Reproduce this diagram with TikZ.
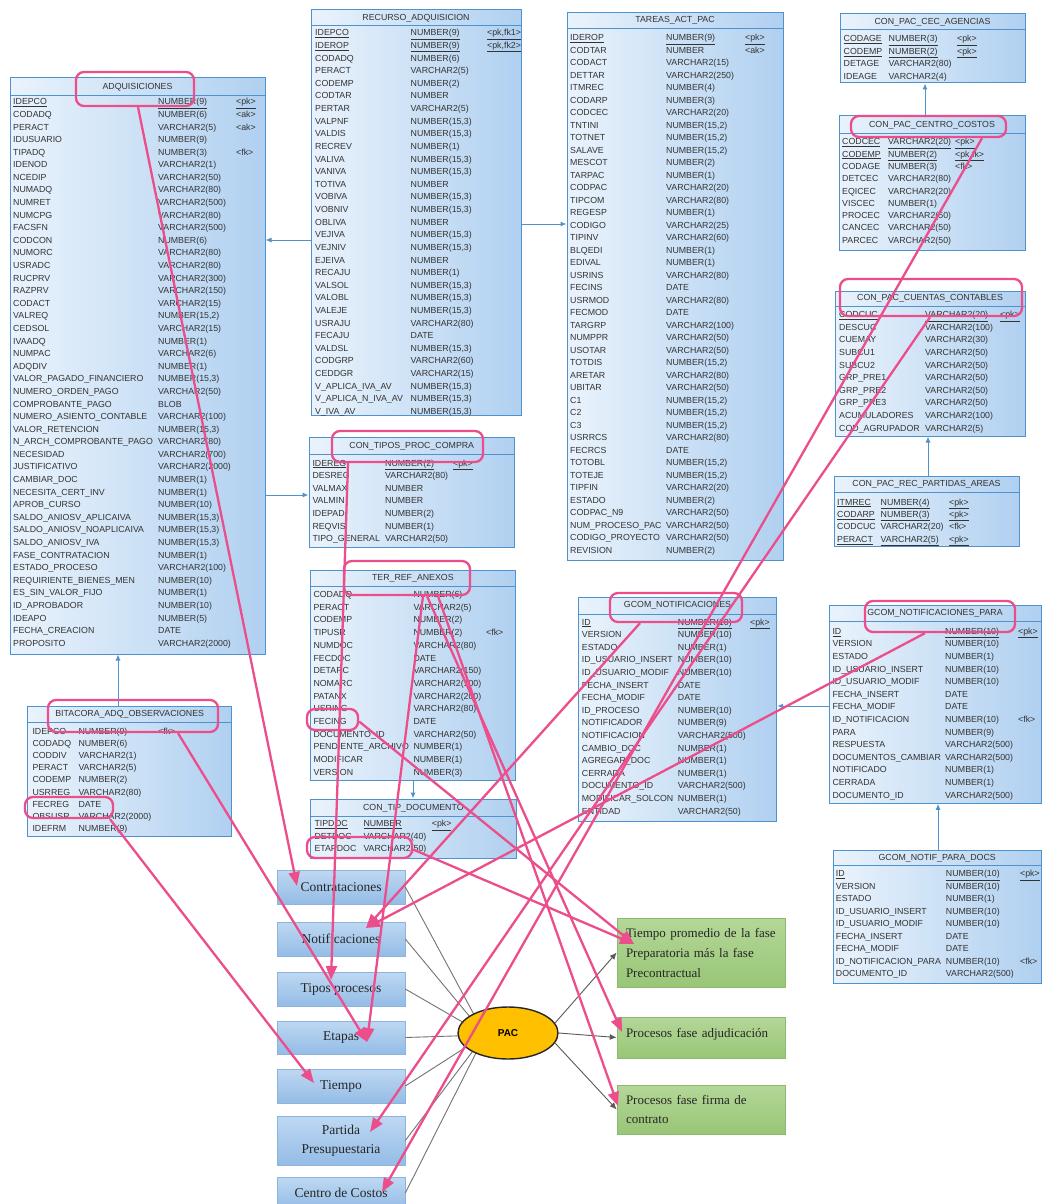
\documentclass[tikz,border=0pt]{standalone}
\usepackage{fontspec}
\setmainfont{Liberation Sans}
\newfontfamily\tnr{Liberation Serif}
\usetikzlibrary{arrows.meta,shapes.geometric}

\definecolor{tblue}{RGB}{78,146,206}
\definecolor{tL}{RGB}{234,243,252}
\definecolor{tR}{RGB}{176,208,240}
\definecolor{hot}{RGB}{236,78,140}
\definecolor{bTop}{RGB}{190,216,242}
\definecolor{bBot}{RGB}{148,188,230}
\definecolor{bEdge}{RGB}{140,180,220}
\definecolor{gTop}{RGB}{180,215,152}
\definecolor{gBot}{RGB}{152,198,118}
\definecolor{gEdge}{RGB}{140,186,110}
\definecolor{pacY}{RGB}{255,192,0}

\newcommand{\pk}[1]{\underline{#1}}
\newcommand{\tabfont}[1]{\fontsize{8.8}{#1}\selectfont}

% table frame: name, x1, y1, x2, y2, title, title y, separator y
\newcommand{\dbtable}[8]{%
  \node[tbl, minimum width={(#4)-(#2)}, minimum height={(#5)-(#3)}] (#1) at ({((#2)+(#4))/2},{((#3)+(#5))/2}) {};
  \node[ttl] (#1-title) at ({((#2)+(#4))/2},#7) {#6};
  \draw[tblue, line width=0.8pt] (#2,#8) -- (#4,#8);}

% table columns: name, x names, x types, x keys, first row y, row pitch, names, types, keys
\newcommand{\cols}[9]{%
  \node[col, font={\tabfont{#6}}] (#1-n) at (#2,{(#5)-3.85}) {\rule{0pt}{7pt}#7};
  \node[col, font={\tabfont{#6}}] (#1-t) at (#3,{(#5)-3.85}) {\rule{0pt}{7pt}#8};
  \node[col, font={\tabfont{#6}}] (#1-k) at (#4,{(#5)-3.85}) {\rule{0pt}{7pt}#9};}

\tikzset{
  tbl/.style={rectangle, draw=tblue, line width=1pt, left color=tL, right color=tR, inner sep=0},
  ttl/.style={font=\tabfont{10}, text=black!80, inner sep=0},
  col/.style={anchor=north west, inner sep=0, align=left, text=black!80},
  fk/.style={draw=tblue, line width=1pt, -{Latex[length=6pt,width=5pt]}},
  lbox/.style={rectangle, draw=bEdge, line width=0.6pt, top color=bTop, bottom color=bBot,
    minimum width=128, inner sep=0, align=center, text=black!85,
    font=\tnr\fontsize{13.5}{18.5}\selectfont},
  gbox/.style={rectangle, draw=gEdge, line width=0.6pt, top color=gTop, bottom color=gBot,
    minimum width=168, inner xsep=9, inner ysep=0, text width=150, align=left, text=black!85,
    font=\tnr\fontsize{13}{20}\selectfont},
  gline/.style={draw=black!55, line width=0.9pt},
  parr/.style={draw=black!65, line width=0.9pt, -{Latex[length=7pt,width=6pt]}},
  hl/.style={rectangle, draw=hot, line width=2.3pt, rounded corners=8pt, inner sep=0},
  harr/.style={draw=hot, line width=2.3pt, -{Triangle[length=14pt,width=11pt]}}
}

\begin{document}
\begin{tikzpicture}[x=1pt,y=-1pt]
\useasboundingbox (0,0) rectangle (1042,1204);
\clip (0,0) rectangle (1042,1204);
\fill[white] (0,0) rectangle (1042,1204);

% ---------------- ADQUISICIONES ----------------
\dbtable{adq}{10}{78}{265}{654}{ADQUISICIONES}{87}{95}
\cols{adq}{13}{158}{236}{101.5}{12.59}
{\pk{IDEPCO}\\CODADQ\\PERACT\\IDUSUARIO\\TIPADQ\\IDENOD\\NCEDIP\\NUMADQ\\NUMRET\\NUMCPG\\FACSFN\\CODCON\\NUMORC\\USRADC\\RUCPRV\\RAZPRV\\CODACT\\VALREQ\\CEDSOL\\IVAADQ\\NUMPAC\\ADQDIV\\VALOR\_PAGADO\_FINANCIERO\\NUMERO\_ORDEN\_PAGO\\COMPROBANTE\_PAGO\\NUMERO\_ASIENTO\_CONTABLE\\VALOR\_RETENCION\\N\_ARCH\_COMPROBANTE\_PAGO\\NECESIDAD\\JUSTIFICATIVO\\CAMBIAR\_DOC\\NECESITA\_CERT\_INV\\APROB\_CURSO\\SALDO\_ANIOSV\_APLICAIVA\\SALDO\_ANIOSV\_NOAPLICAIVA\\SALDO\_ANIOSV\_IVA\\FASE\_CONTRATACION\\ESTADO\_PROCESO\\REQUIRIENTE\_BIENES\_MEN\\ES\_SIN\_VALOR\_FIJO\\ID\_APROBADOR\\IDEAPO\\FECHA\_CREACION\\PROPOSITO}
{\pk{NUMBER(9)}\\NUMBER(6)\\VARCHAR2(5)\\NUMBER(9)\\NUMBER(3)\\VARCHAR2(1)\\VARCHAR2(50)\\VARCHAR2(80)\\VARCHAR2(500)\\VARCHAR2(80)\\VARCHAR2(500)\\NUMBER(6)\\VARCHAR2(80)\\VARCHAR2(80)\\VARCHAR2(300)\\VARCHAR2(150)\\VARCHAR2(15)\\NUMBER(15,2)\\VARCHAR2(15)\\NUMBER(1)\\VARCHAR2(6)\\NUMBER(1)\\NUMBER(15,3)\\VARCHAR2(50)\\BLOB\\VARCHAR2(100)\\NUMBER(15,3)\\VARCHAR2(80)\\VARCHAR2(700)\\VARCHAR2(2000)\\NUMBER(1)\\NUMBER(1)\\NUMBER(10)\\NUMBER(15,3)\\NUMBER(15,3)\\NUMBER(15,3)\\NUMBER(1)\\VARCHAR2(100)\\NUMBER(10)\\NUMBER(1)\\NUMBER(10)\\NUMBER(5)\\DATE\\VARCHAR2(2000)}
{\pk{<pk>}\\<ak>\\<ak>\\~\\<fk>}

% ---------------- RECURSO_ADQUISICION ----------------
\dbtable{rec}{311}{10}{521}{415}{RECURSO\_ADQUISICION}{18.5}{25.5}
\cols{rec}{315}{410.5}{487}{32.5}{12.62}
{\pk{IDEPCO}\\\pk{IDEROP}\\CODADQ\\PERACT\\CODEMP\\CODTAR\\PERTAR\\VALPNF\\VALDIS\\RECREV\\VALIVA\\VANIVA\\TOTIVA\\VOBIVA\\VOBNIV\\OBLIVA\\VEJIVA\\VEJNIV\\EJEIVA\\RECAJU\\VALSOL\\VALOBL\\VALEJE\\USRAJU\\FECAJU\\VALDSL\\CODGRP\\CEDDGR\\V\_APLICA\_IVA\_AV\\V\_APLICA\_N\_IVA\_AV\\V\_IVA\_AV}
{\pk{NUMBER(9)}\\\pk{NUMBER(9)}\\NUMBER(6)\\VARCHAR2(5)\\NUMBER(2)\\NUMBER\\VARCHAR2(5)\\NUMBER(15,3)\\NUMBER(15,3)\\NUMBER(1)\\NUMBER(15,3)\\NUMBER(15,3)\\NUMBER\\NUMBER(15,3)\\NUMBER(15,3)\\NUMBER\\NUMBER(15,3)\\NUMBER(15,3)\\NUMBER\\NUMBER(1)\\NUMBER(15,3)\\NUMBER(15,3)\\NUMBER(15,3)\\VARCHAR2(80)\\DATE\\NUMBER(15,3)\\VARCHAR2(60)\\VARCHAR2(15)\\NUMBER(15,3)\\NUMBER(15,3)\\NUMBER(15,3)}
{\pk{<pk,fk1>}\\\pk{<pk,fk2>}}

% ---------------- TAREAS_ACT_PAC ----------------
\dbtable{tar}{567}{13}{783}{560}{TAREAS\_ACT\_PAC}{20.7}{28}
\cols{tar}{570}{666}{745}{37.3}{12.5}
{\pk{IDEROP}\\CODTAR\\CODACT\\DETTAR\\ITMREC\\CODARP\\CODCEC\\TNTINI\\TOTNET\\SALAVE\\MESCOT\\TARPAC\\CODPAC\\TIPCOM\\REGESP\\CODIGO\\TIPINV\\BLQEDI\\EDIVAL\\USRINS\\FECINS\\USRMOD\\FECMOD\\TARGRP\\NUMPPR\\USOTAR\\TOTDIS\\ARETAR\\UBITAR\\C1\\C2\\C3\\USRRCS\\FECRCS\\TOTOBL\\TOTEJE\\TIPFIN\\ESTADO\\CODPAC\_N9\\NUM\_PROCESO\_PAC\\CODIGO\_PROYECTO\\REVISION}
{\pk{NUMBER(9)}\\NUMBER\\VARCHAR2(15)\\VARCHAR2(250)\\NUMBER(4)\\NUMBER(3)\\VARCHAR2(20)\\NUMBER(15,2)\\NUMBER(15,2)\\NUMBER(15,2)\\NUMBER(2)\\NUMBER(1)\\VARCHAR2(20)\\VARCHAR2(80)\\NUMBER(1)\\VARCHAR2(25)\\VARCHAR2(60)\\NUMBER(1)\\NUMBER(1)\\VARCHAR2(80)\\DATE\\VARCHAR2(80)\\DATE\\VARCHAR2(100)\\VARCHAR2(50)\\VARCHAR2(50)\\NUMBER(15,2)\\VARCHAR2(80)\\VARCHAR2(50)\\NUMBER(15,2)\\NUMBER(15,2)\\NUMBER(15,2)\\VARCHAR2(80)\\DATE\\NUMBER(15,2)\\NUMBER(15,2)\\VARCHAR2(20)\\NUMBER(2)\\VARCHAR2(50)\\VARCHAR2(50)\\VARCHAR2(50)\\NUMBER(2)}
{\pk{<pk>}\\<ak>}

% ---------------- CON_PAC_CEC_AGENCIAS ----------------
\dbtable{cec}{840}{14}{1025}{83}{CON\_PAC\_CEC\_AGENCIAS}{22}{29}
\cols{cec}{843.5}{888.5}{957}{38.5}{12.4}
{\pk{CODAGE}\\\pk{CODEMP}\\DETAGE\\IDEAGE}
{\pk{NUMBER(3)}\\\pk{NUMBER(2)}\\VARCHAR2(80)\\VARCHAR2(4)}
{\pk{<pk>}\\\pk{<pk>}}

% ---------------- CON_PAC_CENTRO_COSTOS ----------------
\dbtable{cen}{839}{116}{1025}{250}{CON\_PAC\_CENTRO\_COSTOS}{125}{133}
\cols{cen}{842}{888}{955}{141.5}{12.3}
{\pk{CODCEC}\\\pk{CODEMP}\\CODAGE\\DETCEC\\EQICEC\\VISCEC\\PROCEC\\CANCEC\\PARCEC}
{\pk{VARCHAR2(20)}\\\pk{NUMBER(2)}\\NUMBER(3)\\VARCHAR2(80)\\VARCHAR2(20)\\NUMBER(1)\\VARCHAR2(50)\\VARCHAR2(50)\\VARCHAR2(50)}
{\pk{<pk>}\\\pk{<pk,fk>}\\<fk>}

% ---------------- CON_PAC_CUENTAS_CONTABLES ----------------
\dbtable{cue}{835}{291}{1025}{436}{CON\_PAC\_CUENTAS\_CONTABLES}{298.5}{306.5}
\cols{cue}{839}{925}{1000}{314.3}{12.6}
{\pk{CODCUC}\\DESCUC\\CUEMAY\\SUBCU1\\SUBCU2\\GRP\_PRE1\\GRP\_PRE2\\GRP\_PRE3\\ACUMULADORES\\COD\_AGRUPADOR}
{\pk{VARCHAR2(20)}\\VARCHAR2(100)\\VARCHAR2(30)\\VARCHAR2(50)\\VARCHAR2(50)\\VARCHAR2(50)\\VARCHAR2(50)\\VARCHAR2(50)\\VARCHAR2(100)\\VARCHAR2(5)}
{\pk{<pk>}}

% ---------------- CON_PAC_REC_PARTIDAS_AREAS ----------------
\dbtable{par}{834}{476}{1019}{546}{CON\_PAC\_REC\_PARTIDAS\_AREAS}{484.3}{492.3}
\cols{par}{837}{880.5}{949}{501.7}{12.4}
{\pk{ITMREC}\\\pk{CODARP}\\CODCUC\\\pk{PERACT}}
{\pk{NUMBER(4)}\\\pk{NUMBER(3)}\\VARCHAR2(20)\\\pk{VARCHAR2(5)}}
{\pk{<pk>}\\\pk{<pk>}\\<fk>\\\pk{<pk>}}

% ---------------- CON_TIPOS_PROC_COMPRA ----------------
\dbtable{tip}{309}{437.5}{514.5}{547}{CON\_TIPOS\_PROC\_COMPRA}{446}{454}
\cols{tip}{312.3}{385}{453}{462.7}{12.6}
{\pk{IDEREG}\\DESREG\\VALMAX\\VALMIN\\IDEPAD\\REQVIS\\TIPO\_GENERAL}
{\pk{NUMBER(2)}\\VARCHAR2(80)\\NUMBER\\NUMBER\\NUMBER(2)\\NUMBER(1)\\VARCHAR2(50)}
{\pk{<pk>}}

% ---------------- TER_REF_ANEXOS ----------------
\dbtable{ter}{310}{570}{515.7}{780}{TER\_REF\_ANEXOS}{578.3}{586.7}
\cols{ter}{313.3}{413.3}{486}{594.3}{12.67}
{CODADQ\\PERACT\\CODEMP\\TIPUSR\\NUMDOC\\FECDOC\\DETARC\\NOMARC\\PATANX\\USRING\\FECING\\DOCUMENTO\_ID\\PENDIENTE\_ARCHIVO\\MODIFICAR\\VERSION}
{NUMBER(6)\\VARCHAR2(5)\\NUMBER(2)\\NUMBER(2)\\VARCHAR2(80)\\DATE\\VARCHAR2(150)\\VARCHAR2(100)\\VARCHAR2(200)\\VARCHAR2(80)\\DATE\\VARCHAR2(50)\\NUMBER(1)\\NUMBER(1)\\NUMBER(3)}
{~\\~\\~\\<fk>}

% ---------------- CON_TIP_DOCUMENTO ----------------
\dbtable{tdoc}{310}{799}{516.7}{858}{CON\_TIP\_DOCUMENTO}{808}{816}
\cols{tdoc}{314.3}{363.3}{431.7}{823.3}{12.5}
{\pk{TIPDOC}\\DETDOC\\ETAPDOC}
{\pk{NUMBER}\\VARCHAR2(40)\\VARCHAR2(50)}
{\pk{<pk>}}

% ---------------- GCOM_NOTIFICACIONES ----------------
\dbtable{gno}{578.3}{597.3}{776.7}{821.7}{GCOM\_NOTIFICACIONES}{605.5}{614}
\cols{gno}{581.7}{677.7}{750}{621.7}{12.6}
{\pk{ID}\\VERSION\\ESTADO\\ID\_USUARIO\_INSERT\\ID\_USUARIO\_MODIF\\FECHA\_INSERT\\FECHA\_MODIF\\ID\_PROCESO\\NOTIFICADOR\\NOTIFICACION\\CAMBIO\_DOC\\AGREGAR\_DOC\\CERRADA\\DOCUMENTO\_ID\\MODIFICAR\_SOLCON\\ENTIDAD}
{\pk{NUMBER(10)}\\NUMBER(10)\\NUMBER(1)\\NUMBER(10)\\NUMBER(10)\\DATE\\DATE\\NUMBER(10)\\NUMBER(9)\\VARCHAR2(500)\\NUMBER(1)\\NUMBER(1)\\NUMBER(1)\\VARCHAR2(500)\\NUMBER(1)\\VARCHAR2(50)}
{\pk{<pk>}}

% ---------------- GCOM_NOTIFICACIONES_PARA ----------------
\dbtable{gpa}{829}{605}{1041}{803.3}{GCOM\_NOTIFICACIONES\_PARA}{613.3}{621}
\cols{gpa}{832.3}{945}{1018}{631}{12.6}
{\pk{ID}\\VERSION\\ESTADO\\ID\_USUARIO\_INSERT\\ID\_USUARIO\_MODIF\\FECHA\_INSERT\\FECHA\_MODIF\\ID\_NOTIFICACION\\PARA\\RESPUESTA\\DOCUMENTOS\_CAMBIAR\\NOTIFICADO\\CERRADA\\DOCUMENTO\_ID}
{\pk{NUMBER(10)}\\NUMBER(10)\\NUMBER(1)\\NUMBER(10)\\NUMBER(10)\\DATE\\DATE\\NUMBER(10)\\NUMBER(9)\\VARCHAR2(500)\\VARCHAR2(500)\\NUMBER(1)\\NUMBER(1)\\VARCHAR2(500)}
{\pk{<pk>}\\~\\~\\~\\~\\~\\~\\<fk>}

% ---------------- GCOM_NOTIF_PARA_DOCS ----------------
\dbtable{doc}{833.3}{850}{1041}{983.3}{GCOM\_NOTIF\_PARA\_DOCS}{858.3}{865}
\cols{doc}{835.7}{945.7}{1020}{873.3}{12.5}
{\pk{ID}\\VERSION\\ESTADO\\ID\_USUARIO\_INSERT\\ID\_USUARIO\_MODIF\\FECHA\_INSERT\\FECHA\_MODIF\\ID\_NOTIFICACION\_PARA\\DOCUMENTO\_ID}
{\pk{NUMBER(10)}\\NUMBER(10)\\NUMBER(1)\\NUMBER(10)\\NUMBER(10)\\DATE\\DATE\\NUMBER(10)\\VARCHAR2(500)}
{\pk{<pk>}\\~\\~\\~\\~\\~\\~\\<fk>}

% ---------------- BITACORA_ADQ_OBSERVACIONES ----------------
\dbtable{bit}{27.7}{706.7}{231.7}{836.7}{BITACORA\_ADQ\_OBSERVACIONES}{714.3}{722.7}
\cols{bit}{32.3}{78.3}{158}{730.7}{12.2}
{IDEPCO\\CODADQ\\CODDIV\\PERACT\\CODEMP\\USRREG\\FECREG\\OBSUSR\\IDEFRM}
{NUMBER(9)\\NUMBER(6)\\VARCHAR2(1)\\VARCHAR2(5)\\NUMBER(2)\\VARCHAR2(80)\\DATE\\VARCHAR2(2000)\\NUMBER(9)}
{<fk>}

% ---------------- foreign-key references ----------------
\draw[fk] (rec.west |- 0,240) -- (adq.east |- 0,240);
\draw[fk] (rec.east |- 0,224) -- (tar.west |- 0,224);
\draw[fk] (adq.east |- 0,495) -- (tip.west |- 0,495);
\draw[fk] (bit.north -| 118,0) -- (adq.south -| 118,0);
\draw[fk] (cen.north -| 925,0) -- (cec.south -| 925,0);
\draw[fk] (par.north -| 928,0) -- (cue.south -| 928,0);
\draw[fk] (ter.south -| 413,0) -- (tdoc.north -| 413,0);
\draw[fk] (gpa.west |- 0,706) -- (gno.east |- 0,706);
\draw[fk] (doc.north -| 938,0) -- (gpa.south -| 938,0);

% ---------------- PAC model ----------------
\node[lbox, minimum height=34] (bContr) at (341,887) {Contrataciones};
\node[lbox, minimum height=34] (bNotif) at (341,939) {Notificaciones};
\node[lbox, minimum height=34] (bTipos) at (341,989) {Tipos procesos};
\node[lbox, minimum height=33] (bEtapas) at (341,1037.5) {Etapas};
\node[lbox, minimum height=34] (bTiempo) at (341,1086) {Tiempo};
\node[lbox, minimum height=49] (bPartida) at (341,1140.5) {Partida\\Presupuestaria};
\node[lbox, minimum height=32] (bCentro) at (341,1193) {Centro de Costos};

\node[gbox, minimum height=69] (gTiempo) at (701,952.5)
  {\makebox[150pt][s]{Tiempo promedio de la fase}\\\makebox[150pt][s]{Preparatoria más la fase}\\Precontractual};
\node[gbox, minimum height=41, text depth=10pt] (gAdj) at (701,1037.5) {Procesos fase adjudicación};
\node[gbox, minimum height=49, font=\tnr\fontsize{13}{18.5}\selectfont] (gFirma) at (701,1109.5)
  {\makebox[150pt][s]{Procesos fase firma de}\\contrato};

\coordinate (hub) at (485,1035);
\foreach \b in {bContr,bNotif,bTipos,bEtapas,bTiempo,bPartida,bCentro}
  \draw[gline] (\b.east) -- (hub);

\node[ellipse, draw=black!85, line width=1.4pt, fill=pacY, minimum width=100, minimum height=52,
  inner sep=0, font=\bfseries\fontsize{10}{12}\selectfont] (pac) at (508,1033) {PAC};

\draw[parr] (pac.12) -- (gTiempo.west);
\draw[parr] (pac.east) -- (gAdj.west);
\draw[parr] (pac.-12) -- (gFirma.west);

% ---------------- highlighted fields ----------------
\node[hl, minimum width=118, minimum height=34] (ovAdq) at (135,89) {};
\node[hl, minimum width=155, minimum height=21] (ovCentro) at (928.5,126.5) {};
\node[hl, minimum width=182, minimum height=37] (ovCuentas) at (931,297.5) {};
\node[hl, minimum width=151, minimum height=31] (ovTipos) at (407.5,446.5) {};
\node[hl, minimum width=126, minimum height=34] (ovTer) at (407,578) {};
\node[hl, minimum width=51, minimum height=21] (ovFecing) at (332.5,719.5) {};
\node[hl, minimum width=105, minimum height=21] (ovEtapdoc) at (359.5,847.5) {};
\node[hl, minimum width=132, minimum height=29] (ovGnot) at (676,607.5) {};
\node[hl, minimum width=150, minimum height=31] (ovGpara) at (940,616.5) {};
\node[hl, minimum width=170, minimum height=32] (ovBit) at (133,716) {};
\node[hl, minimum width=88, minimum height=21] (ovFecreg) at (69,807.5) {};

\coordinate (tContr) at (297,886);
\coordinate (tNotif) at (366,928);
\coordinate (tTipos) at (331,980);
\coordinate (tEtapas) at (367,1042);
\coordinate (tTiempo) at (314,1083);
\coordinate (tPartida) at (370,1132);
\coordinate (tCentro) at (382,1192);
\coordinate (tProm) at (634,944);
\coordinate (tAdj) at (622,1032);
\coordinate (tFirma) at (618,1106);

\draw[harr] ([xshift=3pt]ovAdq.south) -- (tContr);
\draw[harr] ([xshift=-59.5pt]ovTipos.south) -- (tTipos);
\draw[harr] ([xshift=16pt]ovTer.south) -- (tEtapas);
\draw[harr] ([xshift=20pt]ovTer.south) -- (tAdj);
\draw[harr] ([xshift=31pt]ovTer.south) -- (tFirma);
\draw[harr] ([yshift=-2pt]ovFecing.east) -- (tProm);
\draw[harr] ([yshift=-2pt]ovEtapdoc.east) -- (tProm);
\draw[harr] ([xshift=45pt]ovBit.south) -- (tEtapas);
\draw[harr] ([xshift=41pt]ovFecreg.south) -- (tTiempo);
\draw[harr] ([xshift=-36pt]ovGnot.south) -- (tNotif);
\draw[harr] ([xshift=-15pt]ovGpara.south) -- (tNotif);
\draw[harr] ([xshift=-1pt]ovCuentas.south) -- (tPartida);
\draw[harr] ([xshift=53.5pt]ovCentro.south) -- (tCentro);
\end{tikzpicture}
\end{document}
